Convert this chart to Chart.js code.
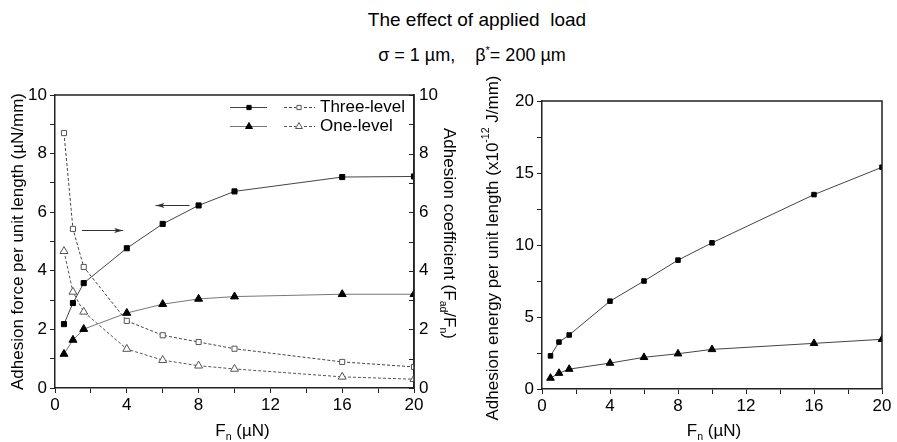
<!DOCTYPE html>
<html>
<head>
<meta charset="utf-8">
<script src="https://cdn.jsdelivr.net/npm/chart.js@4.4.0/dist/chart.umd.min.js"></script>
<style>
  body { margin: 0; background: #fff; width: 897px; height: 442px; overflow: hidden; position: relative;
         font-family: "Liberation Sans", Arial, sans-serif; }
  .ttl { position: absolute; left: 0; text-align: center; line-height: 22px; color: #000; }
  #t1 { top: 9px; width: 954px; font-size: 19px; }
  #t2 { top: 44px; width: 944px; font-size: 18px; }
  #t2 sup { font-size: 11px; vertical-align: 7px; line-height: 0; }
  canvas { position: absolute; top: 0; }
  #left { left: 0; }
  #right { left: 465px; }
</style>
</head>
<body>
<div class="ttl" id="t1">The effect of applied&nbsp; load</div>
<div class="ttl" id="t2">σ = 1 µm,&nbsp;&nbsp;&nbsp; β<sup>*</sup>= 200 µm</div>
<canvas id="left" width="465" height="442"></canvas>
<canvas id="right" width="432" height="442"></canvas>
<script>
// applied load F_n (µN)
const loads = [0.5, 1, 1.6, 4, 6, 8, 10, 16, 20];

// adhesion force per unit length (µN/mm)
const forceThree = [2.18, 2.9, 3.58, 4.77, 5.6, 6.23, 6.71, 7.2, 7.22];
const forceOne = [1.16, 1.64, 2.01, 2.56, 2.86, 3.04, 3.12, 3.2, 3.2];

// adhesion coefficient F_ad / F_n
const coefThree = [8.7, 5.43, 4.13, 2.29, 1.8, 1.57, 1.34, 0.89, 0.72];
const coefOne = [4.67, 3.28, 2.6, 1.33, 0.95, 0.76, 0.65, 0.38, 0.3];

// adhesion energy per unit length (x10^-12 J/mm)
const energyThree = [2.3, 3.26, 3.75, 6.1, 7.5, 8.95, 10.15, 13.5, 15.4];
const energyOne = [0.76, 1.1, 1.38, 1.8, 2.2, 2.45, 2.75, 3.17, 3.45];

// arrows pointing to the axis each curve belongs to: [x from, x to, y, axis]
const arrows = [[7.5, 5.6, 6.25, 'y'], [1.5, 3.8, 5.4, 'y']];

const FONT = '"Liberation Sans", Arial, sans-serif';
Chart.defaults.font.family = FONT;
Chart.defaults.color = '#000';

function pts(ys) {
  return loads.map((x, i) => ({ x: x, y: ys[i] }));
}

// text with sub/superscripts, centred on (x, y)
function richText(ctx, parts, x, y, rot, size) {
  ctx.save();
  ctx.translate(x, y);
  ctx.rotate(rot);
  ctx.textBaseline = 'middle';
  ctx.textAlign = 'left';
  ctx.fillStyle = '#000';
  let w = 0;
  parts.forEach(p => {
    ctx.font = (p[1] ? size * 0.62 : size) + 'px ' + FONT;
    w += ctx.measureText(p[0]).width;
  });
  let cx = -w / 2;
  parts.forEach(p => {
    const s = p[1] ? size * 0.62 : size;
    ctx.font = s + 'px ' + FONT;
    const dy = p[1] === 'sub' ? size * 0.35 : p[1] === 'sup' ? -size * 0.38 : 0;
    ctx.fillText(p[0], cx, dy);
    cx += ctx.measureText(p[0]).width;
  });
  ctx.restore();
}

function xAxis(h) {
  return {
    type: 'linear', min: 0, max: 20,
    ticks: { stepSize: 2, autoSkip: false, maxRotation: 0, font: { size: 17 }, padding: 2,
             callback: v => (v % 4 === 0 ? v : '') },
    grid: { drawOnChartArea: false, tickLength: 5, color: '#222' },
    border: { color: '#222', width: 1.5 },
    afterFit: s => { s.height = h; }
  };
}

function yAxis(max, step, labelEvery, w) {
  return {
    position: 'left', min: 0, max: max,
    ticks: { stepSize: step, autoSkip: false, font: { size: 17 }, padding: 3,
             callback: v => (Math.abs(v / labelEvery - Math.round(v / labelEvery)) < 1e-6 ? v : '') },
    grid: { drawOnChartArea: false, tickLength: 5, color: '#222' },
    border: { color: '#222', width: 1.5 },
    afterFit: s => { s.width = w; }
  };
}

function ds(label, data, axis, style, filled, dashed, lineColor, r) {
  return {
    label: label, data: pts(data), yAxisID: axis,
    pointStyle: style, pointRadius: r, pointHoverRadius: r,
    pointBackgroundColor: filled ? '#000' : '#fff',
    pointBorderColor: filled ? '#000' : '#555', pointBorderWidth: 1,
    borderColor: lineColor, borderWidth: 1, borderDash: dashed ? [3, 2] : [],
    tension: 0, fill: false
  };
}

const framePlugin = {
  id: 'frame',
  afterDraw(chart) {
    const a = chart.chartArea, ctx = chart.ctx;
    ctx.save();
    ctx.strokeStyle = '#222';
    ctx.lineWidth = 1.5;
    ctx.beginPath();
    ctx.moveTo(a.left, a.top);
    ctx.lineTo(a.right, a.top);
    ctx.lineTo(a.right, a.bottom);
    ctx.stroke();
    ctx.restore();
  }
};

const leftExtras = {
  id: 'leftExtras',
  afterDraw(chart) {
    const ctx = chart.ctx, a = chart.chartArea, xs = chart.scales.x;
    // inward ticks on the right axis
    const y2 = chart.scales.y2;
    ctx.save();
    ctx.strokeStyle = '#222';
    ctx.lineWidth = 1;
    y2.ticks.forEach(t => {
      const y = Math.round(y2.getPixelForValue(t.value)) + 0.5;
      ctx.beginPath();
      ctx.moveTo(a.right - 5, y);
      ctx.lineTo(a.right, y);
      ctx.stroke();
    });
    // arrows
    ctx.strokeStyle = '#333';
    ctx.fillStyle = '#333';
    arrows.forEach(ar => {
      const x1 = xs.getPixelForValue(ar[0]), x2 = xs.getPixelForValue(ar[1]);
      const y = Math.round(chart.scales[ar[3]].getPixelForValue(ar[2])) + 0.5;
      const d = Math.sign(x2 - x1);
      ctx.beginPath();
      ctx.moveTo(x1, y);
      ctx.lineTo(x2, y);
      ctx.stroke();
      ctx.beginPath();
      ctx.moveTo(x2, y);
      ctx.lineTo(x2 - d * 9, y - 2.5);
      ctx.lineTo(x2 - d * 7, y);
      ctx.lineTo(x2 - d * 9, y + 2.5);
      ctx.closePath();
      ctx.fill();
    });
    // legend
    const R = a.right;
    const rows = [
      ['Three-level', 'rect', chart.data.datasets[0], chart.data.datasets[1], a.top + 12],
      ['One-level', 'triangle', chart.data.datasets[2], chart.data.datasets[3], a.top + 31]
    ];
    rows.forEach(rw => {
      const y = rw[4] + 0.5;
      ctx.lineWidth = 1;
      ctx.strokeStyle = rw[2].borderColor;
      ctx.setLineDash([]);
      ctx.beginPath();
      ctx.moveTo(R - 184, y); ctx.lineTo(R - 147, y);
      ctx.stroke();
      ctx.strokeStyle = rw[3].borderColor;
      ctx.setLineDash([3, 2]);
      ctx.beginPath();
      ctx.moveTo(R - 130, y); ctx.lineTo(R - 99, y);
      ctx.stroke();
      ctx.setLineDash([]);
      const rs = rw[1] === 'rect' ? 3 : 4;
      ctx.fillStyle = '#000';
      ctx.strokeStyle = '#000';
      Chart.helpers.drawPoint(ctx, { pointStyle: rw[1], radius: rs, rotation: 0, borderWidth: 1 }, R - 165, y);
      ctx.fillStyle = '#fff';
      ctx.strokeStyle = '#555';
      ctx.fillRect(R - 118, y - 4, 7, 8);
      Chart.helpers.drawPoint(ctx, { pointStyle: rw[1], radius: rs, rotation: 0, borderWidth: 1 }, R - 115, y);
      ctx.fillStyle = '#000';
      ctx.font = '17px ' + FONT;
      ctx.textBaseline = 'middle';
      ctx.textAlign = 'left';
      ctx.fillText(rw[0], R - 94, rw[4]);
    });
    ctx.restore();
    // axis titles
    richText(ctx, [['Adhesion force per unit length (µN/mm)']], 18, (a.top + a.bottom) / 2, -Math.PI / 2, 17);
    richText(ctx, [['Adhesion coefficient (F'], ['ad', 'sub'], ['/F'], ['n', 'sub'], [')']],
      449, (a.top + a.bottom) / 2 - 8, Math.PI / 2, 17);
    richText(ctx, [['F'], ['n', 'sub'], [' (µN)']], (a.left + a.right) / 2 + 8, 431, 0, 17);
  }
};

const rightExtras = {
  id: 'rightExtras',
  afterDraw(chart) {
    const ctx = chart.ctx, a = chart.chartArea;
    richText(ctx, [['Adhesion energy per unit length (x10'], ['-12', 'sup'], [' J/mm)']],
      28, (a.top + a.bottom) / 2 + 3, -Math.PI / 2, 17);
    richText(ctx, [['F'], ['n', 'sub'], [' (µN)']], (a.left + a.right) / 2 + 2, 431, 0, 17);
  }
};

new Chart(document.getElementById('left'), {
  type: 'line',
  data: {
    datasets: [
      ds('Three-level force', forceThree, 'y', 'rect', true, false, '#444', 3.6),
      ds('Three-level coefficient', coefThree, 'y2', 'rect', false, true, '#444', 3.6),
      ds('One-level force', forceOne, 'y', 'triangle', true, false, '#777', 4.6),
      ds('One-level coefficient', coefOne, 'y2', 'triangle', false, true, '#555', 4.6)
    ]
  },
  options: {
    responsive: false, animation: false,
    layout: { padding: { top: 95, left: 0, right: 0, bottom: 0 } },
    plugins: { legend: { display: false }, tooltip: { enabled: false } },
    scales: {
      x: xAxis(54),
      y: yAxis(10, 1, 2, 55),
      y2: {
        position: 'right', min: 0, max: 10,
        ticks: { stepSize: 1, autoSkip: false, font: { size: 17 }, padding: 5,
                 callback: v => (v % 2 === 0 ? v : '') },
        grid: { drawOnChartArea: false, drawTicks: false },
        border: { color: '#222', width: 1.5 },
        afterFit: s => { s.width = 51; }
      }
    }
  },
  plugins: [framePlugin, leftExtras]
});

new Chart(document.getElementById('right'), {
  type: 'line',
  data: {
    datasets: [
      ds('Three-level', energyThree, 'y', 'rect', true, false, '#444', 3.2),
      ds('One-level', energyOne, 'y', 'triangle', true, false, '#444', 4.4)
    ]
  },
  options: {
    responsive: false, animation: false,
    layout: { padding: { top: 101, left: 0, right: 15, bottom: 0 } },
    plugins: { legend: { display: false }, tooltip: { enabled: false } },
    scales: {
      x: xAxis(53),
      y: yAxis(20, 2.5, 5, 77)
    }
  },
  plugins: [framePlugin, rightExtras]
});
</script>
</body>
</html>
